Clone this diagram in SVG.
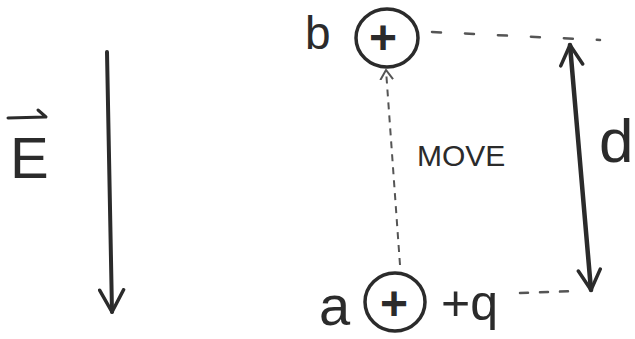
<svg xmlns="http://www.w3.org/2000/svg" width="635" height="339" viewBox="0 0 635 339">
<defs>
<style>
.ink{fill:none;stroke:#2b2b2b;stroke-linecap:round;stroke-linejoin:round}
.txt{font-family:"Liberation Sans",Arial,sans-serif;fill:#2b2b2b}
.plus{font-family:"Liberation Sans",Arial,sans-serif;fill:#2b2b2b;font-size:48px;font-weight:bold;text-anchor:middle}
.node{fill:none;stroke:#2b2b2b;stroke-width:3.5}
</style>
<marker id="headE" viewBox="-24 -14 26 28" markerWidth="26" markerHeight="28" refX="0" refY="0" orient="auto" markerUnits="userSpaceOnUse">
<path d="M-22,-12 L0,0 L-22,12" fill="none" stroke="#2b2b2b" stroke-width="3.5" stroke-linecap="round" stroke-linejoin="round"/>
</marker>
<marker id="headD" viewBox="-22 -14 24 28" markerWidth="24" markerHeight="28" refX="0" refY="0" orient="auto-start-reverse" markerUnits="userSpaceOnUse">
<path d="M-20,-11 L0,0 L-20,11" fill="none" stroke="#2b2b2b" stroke-width="3.5" stroke-linecap="round" stroke-linejoin="round"/>
</marker>
<marker id="headS" viewBox="-10 -8 12 16" markerWidth="12" markerHeight="16" refX="0" refY="0" orient="auto" markerUnits="userSpaceOnUse">
<path d="M-9,-6 L0,0 L-9,6" fill="none" stroke="#555" stroke-width="2" stroke-linecap="round"/>
</marker>
</defs>
<rect width="635" height="339" fill="#ffffff"/>

<g id="field">
<path class="ink" d="M8,118 L45,117 M38,110 L46,117" stroke-width="3"/>
<text class="txt" x="10" y="178" font-size="58">E</text>
</g>

<g id="node-b">
<ellipse class="node" cx="387" cy="38" rx="31" ry="29"/>
<text class="plus" x="383" y="54">+</text>
<text class="txt" x="305" y="49" font-size="46">b</text>
</g>

<g id="node-a">
<ellipse class="node" cx="395" cy="302" rx="30" ry="29"/>
<text class="plus" x="394" y="320">+</text>
<text class="txt" x="319" y="325" font-size="56">a</text>
<text class="txt" x="441" y="320" font-size="50">+q</text>
</g>

<g id="labels">
<text class="txt" x="417" y="166" font-size="30">MOVE</text>
<text class="txt" x="599" y="162" font-size="62">d</text>
</g>

<g id="connectors">
<line class="ink" x1="107" y1="52" x2="112" y2="312" stroke-width="4" marker-end="url(#headE)"/>
<line class="ink" x1="570" y1="45" x2="591" y2="290" stroke-width="4.5" marker-start="url(#headD)" marker-end="url(#headD)"/>
<line x1="400" y1="265" x2="386" y2="70" stroke="#555" stroke-width="2" stroke-dasharray="7 6" marker-end="url(#headS)"/>
<line x1="432" y1="32" x2="600" y2="40" stroke="#555" stroke-width="2.5" stroke-dasharray="9 24" stroke-linecap="round"/>
<line x1="520" y1="293" x2="578" y2="291" stroke="#555" stroke-width="2.5" stroke-dasharray="8 12" stroke-linecap="round"/>
</g>
</svg>
